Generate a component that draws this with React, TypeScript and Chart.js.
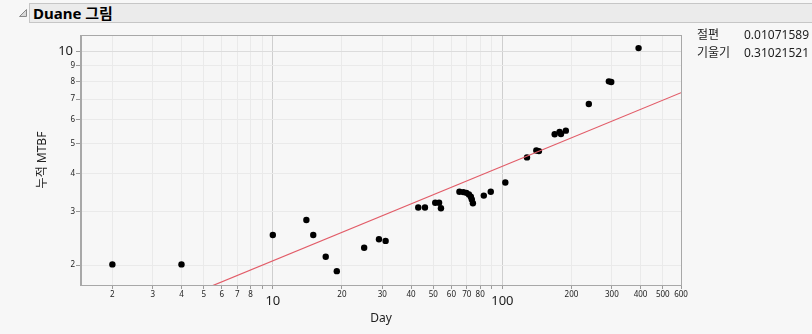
import React, { useEffect, useRef } from "react";
import { Chart, registerables } from "chart.js";

Chart.register(...registerables);

const days = [2, 4, 10, 14, 15, 17, 19, 25, 29, 31, 43, 46, 51, 53, 54, 65, 67.6, 69.7, 71.5, 72.9, 73.6, 74.4, 83, 89, 103, 128, 140.6, 144.3, 169, 177.5, 180, 189, 238, 291, 298, 392];
const mtbf = [2.01, 2.01, 2.51, 2.81, 2.51, 2.13, 1.91, 2.28, 2.43, 2.4, 3.09, 3.09, 3.2, 3.2, 3.07, 3.48, 3.47, 3.45, 3.41, 3.35, 3.28, 3.19, 3.38, 3.48, 3.73, 4.51, 4.75, 4.73, 5.37, 5.47, 5.38, 5.52, 6.75, 8.01, 7.97, 10.3];

const intercept = 0.01071589;
const slope = 0.31021521;

const xMin = 1.46;
const xMax = 600;
const yMin = 1.72;
const yMax = 11.37;

const xTicks = [2, 3, 4, 5, 6, 7, 8, 9, 10, 20, 30, 40, 50, 60, 70, 80, 90, 100, 200, 300, 400, 500, 600];
const xLabels = [2, 3, 4, 5, 6, 7, 8, 10, 20, 30, 40, 50, 60, 70, 80, 100, 200, 300, 400, 500, 600];
const yTicks = [2, 3, 4, 5, 6, 7, 8, 9, 10];
const yLabels = [2, 3, 4, 5, 6, 7, 8, 9, 10];
const majorTicks = [10, 100];

const FONT = "'Noto Sans', 'Noto Sans CJK KR', sans-serif";

const labelPlugin = {
  id: "labels",
  afterDraw(chart: any) {
    const { ctx, chartArea, scales } = chart;
    const xs = scales.x;
    const ys = scales.y;
    ctx.save();
    // frame
    ctx.strokeStyle = "#a8a8a8";
    ctx.lineWidth = 1;
    ctx.strokeRect(chartArea.left - 0.5, chartArea.top + 0.5, chartArea.right - chartArea.left + 1, chartArea.bottom - chartArea.top);
    ctx.fillStyle = "#222";
    // x labels
    xLabels.forEach((v) => {
      const px = xs.getPixelForValue(v);
      const major = majorTicks.includes(v);
      ctx.font = major ? `13px ${FONT}` : `8px ${FONT}`;
      ctx.textAlign = "center";
      ctx.textBaseline = "middle";
      ctx.fillText(String(v), px, major ? 301 : 295);
    });
    // y labels
    yLabels.forEach((v) => {
      const py = ys.getPixelForValue(v);
      const major = majorTicks.includes(v);
      ctx.font = major ? `13px ${FONT}` : `8px ${FONT}`;
      ctx.textAlign = "right";
      ctx.textBaseline = "middle";
      ctx.fillText(String(v), major ? 73 : 75, py + (major ? -0.5 : 0));
    });
    // axis titles
    ctx.font = `12px ${FONT}`;
    ctx.textAlign = "center";
    ctx.textBaseline = "middle";
    ctx.fillText("Day", (chartArea.left + chartArea.right) / 2, 319);
    ctx.translate(43, (chartArea.top + chartArea.bottom) / 2);
    ctx.rotate(-Math.PI / 2);
    ctx.fillText("누적 MTBF", 0, 0);
    ctx.restore();
  },
};

export default function App() {
  const ref = useRef<HTMLCanvasElement>(null);

  useEffect(() => {
    if (!ref.current) return;
    const points = days.map((d, i) => ({ x: d, y: mtbf[i] }));
    const fit = [xMin, xMax].map((t) => ({ x: t, y: Math.exp(intercept + slope * Math.log(t)) }));
    const gridColor = (c: any) => (majorTicks.includes(c.tick?.value) ? "#cfcfcf" : "#eaeaea");
    const chart = new Chart(ref.current, {
      type: "scatter",
      data: {
        datasets: [
          {
            type: "line",
            data: fit,
            borderColor: "rgb(226,92,104)",
            borderWidth: 1.2,
            pointRadius: 0,
            showLine: true,
            fill: false,
          } as any,
          {
            data: points,
            backgroundColor: "#000",
            borderColor: "#000",
            pointRadius: 3.2,
            pointBorderWidth: 0,
          },
        ],
      },
      options: {
        animation: false,
        responsive: false,
        maintainAspectRatio: false,
        layout: { padding: { left: 0, top: 35, right: 131, bottom: 0 } },
        plugins: { legend: { display: false }, tooltip: { enabled: false } },
        scales: {
          x: {
            type: "logarithmic",
            min: xMin,
            max: xMax,
            afterBuildTicks: (axis: any) => {
              axis.ticks = xTicks.map((v) => ({ value: v }));
            },
            afterFit: (axis: any) => {
              axis.height = 49;
            },
            ticks: { display: false },
            grid: { color: gridColor, tickColor: "#9a9a9a", tickLength: 4, lineWidth: 1 },
            border: { color: "#a8a8a8" },
          },
          y: {
            type: "logarithmic",
            min: yMin,
            max: yMax,
            afterBuildTicks: (axis: any) => {
              axis.ticks = yTicks.map((v) => ({ value: v }));
            },
            afterFit: (axis: any) => {
              axis.width = 81;
            },
            ticks: { display: false },
            grid: { color: (c: any) => (c.tick?.value === 10 ? "#dcdcdc" : "#eaeaea"), tickColor: "#9a9a9a", tickLength: 5, lineWidth: 1 },
            border: { color: "#a8a8a8" },
          },
        },
      },
      plugins: [labelPlugin],
    });
    return () => chart.destroy();
  }, []);

  return (
    <div style={{ position: "fixed", left: 0, top: 0, width: 812, height: 334, background: "#f7f7f7", overflow: "hidden", fontFamily: FONT }}>
      <svg style={{ position: "absolute", left: 0, top: 0 }} width={40} height={30}>
        <polygon points="19.5,16.5 26.5,16.5 26.5,9.5" fill="#d8d8d8" stroke="#8a8a8a" strokeWidth={1} />
      </svg>
      <div
        style={{
          position: "absolute",
          left: 29,
          top: 3,
          width: 800,
          height: 20,
          background: "#ebebeb",
          border: "1px solid #c6c6c6",
          boxSizing: "border-box",
        }}
      />
      <div style={{ position: "absolute", left: 33, top: 2, fontSize: 15, fontWeight: "bold", color: "#000", lineHeight: "22px" }}>
        Duane 그림
      </div>
      <canvas ref={ref} width={812} height={334} style={{ position: "absolute", left: 0, top: 0 }} />
      <div style={{ position: "absolute", left: 697, top: 26, fontSize: 12, color: "#222", lineHeight: "18px" }}>
        <div>절편</div>
        <div>기울기</div>
      </div>
      <div style={{ position: "absolute", left: 744, top: 26, fontSize: 12, color: "#222", lineHeight: "18px" }}>
        <div>0.01071589</div>
        <div>0.31021521</div>
      </div>
    </div>
  );
}
